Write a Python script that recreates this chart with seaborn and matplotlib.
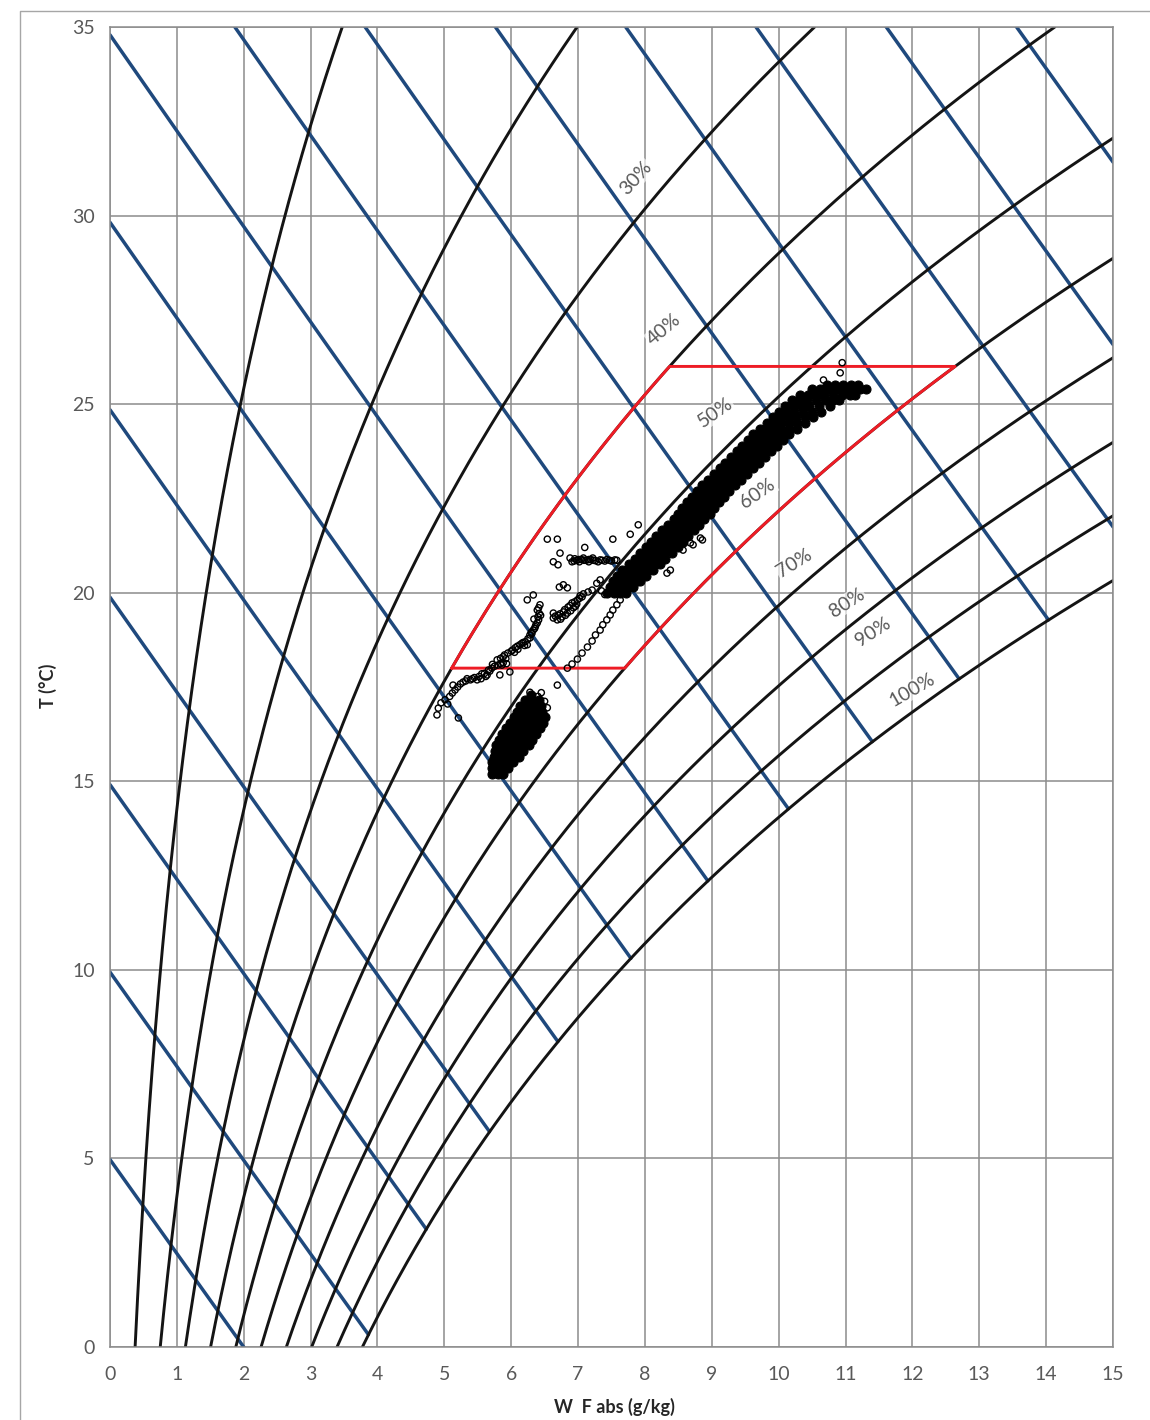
import numpy as np
import matplotlib
matplotlib.use("Agg")
import matplotlib.pyplot as plt
import seaborn as sns
from matplotlib.lines import Line2D

# ---------------- data ----------------
temp_table = list(range(0, 36))
psat_kpa = [0.6112, 0.6571, 0.7060, 0.7581, 0.8135, 0.8725, 0.9353, 1.0020, 1.0729,
            1.1481, 1.2280, 1.3128, 1.4026, 1.4979, 1.5987, 1.7055, 1.8185, 1.9380,
            2.0643, 2.1979, 2.3389, 2.4878, 2.6448, 2.8104, 2.9850, 3.1690, 3.3629,
            3.5670, 3.7818, 4.0078, 4.2455, 4.4953, 4.7578, 5.0335, 5.3229, 5.6267]
pressure_kpa = 101.325
rh_levels = [10, 20, 30, 40, 50, 60, 70, 80, 90, 100]
enthalpy_levels = [5, 10, 15, 20, 25, 30, 35, 40, 45, 50, 55, 60, 65, 70]
comfort_T = [18, 26]
comfort_rh = [40, 60]

label_text = ["30%", "40%", "50%", "60%", "70%", "80%", "90%", "100%"]
label_x = [7.87, 8.29, 9.05, 9.69, 10.23, 11.02, 11.41, 11.99]
label_T = [31.00, 26.97, 24.77, 22.62, 20.79, 19.73, 18.96, 17.42]
label_rot = [48, 40, 35, 35, 32, 33, 33, 30]

x_ticks = list(range(0, 16))
y_ticks = [0, 5, 10, 15, 20, 25, 30, 35]

# dense main band of measurements (rows of temperature)
band_T = [20.00, 20.15, 20.30, 20.45, 20.60, 20.75, 20.90, 21.05, 21.20, 21.35,
          21.50, 21.65, 21.80, 21.95, 22.10, 22.25, 22.40, 22.55, 22.70, 22.85,
          23.00, 23.15, 23.30, 23.45, 23.60, 23.75, 23.90, 24.05, 24.20, 24.35,
          24.50, 24.65, 24.80, 24.95, 25.10, 25.25, 25.40, 25.52]
band_x = [
    [7.44, 7.53, 7.62, 7.72],
    [7.48, 7.57, 7.66, 7.75, 7.82],
    [7.52, 7.61, 7.70, 7.79, 7.88, 7.93],
    [7.58, 7.67, 7.76, 7.85, 7.94, 8.02],
    [7.66, 7.75, 7.84, 7.93, 8.02, 8.12],
    [7.76, 7.85, 7.94, 8.03, 8.12, 8.22],
    [7.85, 7.94, 8.03, 8.12, 8.21, 8.30],
    [7.93, 8.02, 8.11, 8.20, 8.29, 8.40],
    [8.01, 8.10, 8.19, 8.28, 8.37, 8.49],
    [8.09, 8.18, 8.27, 8.36, 8.45, 8.57],
    [8.17, 8.26, 8.35, 8.44, 8.54, 8.65],
    [8.26, 8.35, 8.44, 8.53, 8.63, 8.73],
    [8.35, 8.44, 8.53, 8.62, 8.71, 8.81],
    [8.43, 8.52, 8.61, 8.70, 8.79, 8.89],
    [8.50, 8.59, 8.68, 8.77, 8.87, 8.97],
    [8.56, 8.65, 8.74, 8.84, 8.94, 9.04],
    [8.63, 8.72, 8.81, 8.91, 9.01, 9.11],
    [8.70, 8.79, 8.88, 8.98, 9.08, 9.18],
    [8.78, 8.87, 8.96, 9.06, 9.16, 9.26],
    [8.86, 8.95, 9.05, 9.15, 9.25, 9.35],
    [8.95, 9.04, 9.14, 9.24, 9.34, 9.44],
    [9.03, 9.13, 9.23, 9.33, 9.43, 9.53],
    [9.12, 9.22, 9.32, 9.42, 9.52, 9.62],
    [9.20, 9.30, 9.40, 9.50, 9.60, 9.71],
    [9.28, 9.38, 9.48, 9.58, 9.69, 9.80],
    [9.37, 9.47, 9.57, 9.67, 9.78, 9.89],
    [9.45, 9.55, 9.65, 9.76, 9.87, 9.98],
    [9.54, 9.64, 9.74, 9.85, 9.96, 10.07],
    [9.62, 9.72, 9.83, 9.94, 10.05, 10.16],
    [9.72, 9.82, 9.93, 10.04, 10.16, 10.28],
    [9.82, 9.92, 10.03, 10.15, 10.27, 10.40],
    [9.91, 10.02, 10.14, 10.26, 10.39, 10.52],
    [10.00, 10.11, 10.23, 10.36, 10.50, 10.64],
    [10.10, 10.21, 10.33, 10.46, 10.60, 10.77],
    [10.20, 10.31, 10.43, 10.56, 10.70, 10.82, 10.90],
    [10.32, 10.44, 10.56, 10.68, 10.81, 10.94, 11.06, 11.14],
    [10.50, 10.62, 10.74, 10.86, 10.98, 11.10, 11.22, 11.30],
    [10.72, 10.84, 10.96, 11.08, 11.18],
]

# dense lower cluster
blob_T = [15.20, 15.35, 15.50, 15.65, 15.80, 15.95, 16.10, 16.25, 16.40, 16.55,
          16.70, 16.85, 17.00, 17.15, 17.30]
blob_x = [
    [5.72, 5.80, 5.88],
    [5.71, 5.79, 5.87, 5.95],
    [5.72, 5.80, 5.88, 5.96, 6.03],
    [5.74, 5.82, 5.90, 5.98, 6.06, 6.12],
    [5.76, 5.84, 5.92, 6.00, 6.08, 6.17],
    [5.78, 5.86, 5.94, 6.02, 6.10, 6.19, 6.26],
    [5.82, 5.90, 5.98, 6.06, 6.14, 6.23, 6.31],
    [5.86, 5.94, 6.02, 6.10, 6.19, 6.28, 6.37],
    [5.92, 6.00, 6.08, 6.16, 6.25, 6.34, 6.43],
    [5.98, 6.06, 6.14, 6.22, 6.31, 6.40, 6.48],
    [6.04, 6.12, 6.20, 6.29, 6.38, 6.50],
    [6.08, 6.16, 6.25, 6.35, 6.46],
    [6.13, 6.22, 6.32, 6.44],
    [6.21, 6.31, 6.42],
    [6.30],
]

# scattered individual measurements
sparse_x = [4.89, 4.91, 5.01, 5.12, 5.13, 5.28, 5.39, 5.49, 5.64, 5.71, 5.80, 5.88, 5.98,
            5.83, 5.21, 5.05, 5.20, 5.34, 5.45, 5.56, 5.66, 5.75,
            4.95, 5.08, 5.16, 5.24, 5.32, 5.42, 5.52, 5.60, 5.68, 5.72, 5.84, 5.93, 5.55, 5.62,
            5.79, 5.88, 5.95, 6.06, 6.13, 6.21, 6.28, 6.33, 6.39, 6.40, 6.39, 6.43, 6.24,
            6.33, 5.86, 6.24, 6.00, 6.16, 6.30, 6.36, 6.10, 5.92,
            5.84, 5.90, 6.02, 6.09, 6.18, 6.25, 6.31, 6.35, 6.37, 6.41, 6.42, 6.41, 6.28,
            6.20, 6.05, 6.44, 6.34,
            6.63, 6.69, 6.76, 6.78, 6.85, 6.91, 6.99, 7.06, 7.08, 6.84, 6.63, 6.93, 6.70,
            6.98, 7.02, 6.72, 6.78, 6.84, 7.15, 7.33,
            6.66, 6.73, 6.80, 6.88, 6.95, 7.03, 6.74, 6.81, 6.89, 6.96,
            6.63, 6.70, 6.73, 6.91, 6.98, 7.05, 7.12, 7.19, 7.26, 7.33, 7.40, 7.47, 7.55,
            6.95, 7.02, 7.16, 7.30, 6.88, 7.08, 7.22,
            6.94, 7.01, 7.09, 7.16, 7.23, 7.36, 7.43, 7.50, 7.58,
            6.54, 6.69, 7.10, 7.52, 7.78, 7.90, 7.21,
            6.84, 6.91, 6.99, 7.06, 7.14, 7.21, 7.26, 7.33, 7.37, 7.43, 7.48, 7.52, 7.58,
            7.63, 6.69,
            8.53, 8.68, 8.83, 8.38, 8.57, 8.72, 8.86, 8.33, 10.67, 10.92, 10.95,
            7.35, 7.40, 7.28,
            6.40, 6.50, 6.54, 6.45, 6.28, 6.36]
sparse_T = [16.76, 16.94, 17.16, 17.34, 17.55, 17.63, 17.69, 17.69, 17.82, 18.00, 18.08, 18.14, 17.90,
            17.82, 16.68, 17.05, 17.50, 17.72, 17.75, 17.85, 17.95, 18.05,
            17.08, 17.25, 17.42, 17.58, 17.66, 17.72, 17.78, 17.86, 17.92, 18.10, 18.12, 18.12, 17.72, 17.78,
            18.22, 18.30, 18.40, 18.54, 18.62, 18.70, 18.88, 19.01, 19.20, 19.36, 19.54, 19.68, 19.81,
            19.94, 18.08, 18.62, 18.45, 18.66, 18.95, 19.10, 18.50, 18.25,
            18.26, 18.35, 18.48, 18.58, 18.68, 18.78, 18.92, 19.05, 19.15, 19.28, 19.45, 19.60, 18.80,
            18.60, 18.42, 19.40, 19.30,
            19.33, 19.28, 19.36, 19.49, 19.62, 19.73, 19.81, 19.89, 19.97, 19.46, 19.46, 19.60, 19.40,
            19.70, 19.85, 20.15, 20.21, 20.13, 20.02, 20.34,
            19.38, 19.44, 19.55, 19.66, 19.76, 19.92, 19.30, 19.40, 19.52, 19.64,
            20.82, 20.74, 21.05, 20.82, 20.86, 20.88, 20.86, 20.88, 20.85, 20.87, 20.84, 20.86, 20.87,
            20.90, 20.82, 20.82, 20.82, 20.92, 20.92, 20.92,
            20.84, 20.88, 20.86, 20.88, 20.86, 20.86, 20.88, 20.84, 20.86,
            21.42, 21.42, 21.20, 21.42, 21.55, 21.80, 20.07,
            18.00, 18.11, 18.24, 18.40, 18.56, 18.72, 18.88, 19.01, 19.15, 19.28, 19.41, 19.54, 19.68,
            19.81, 17.55,
            21.40, 21.32, 21.45, 20.60, 21.13, 21.27, 21.40, 20.52, 25.64, 25.83, 26.10,
            20.05, 19.95, 20.25,
            17.25, 17.12, 16.95, 17.35, 17.36, 16.98]

# ---------------- helpers ----------------
T_fine = np.linspace(0, 35, 1401)
log_ps = np.log(np.array(psat_kpa))


def psat(T):
    return np.exp(np.interp(T, temp_table, log_ps))


def w_of(T, rh):
    pv = rh / 100.0 * psat(T)
    return 622.0 * pv / (pressure_kpa - pv)


# ---------------- figure ----------------
sns.set_theme(style="white")
plt.rcParams['font.family'] = ['Lato', 'DejaVu Sans']

W, H = 1150, 1420
fig = plt.figure(figsize=(W / 100, H / 100), dpi=100)
ax = fig.add_axes([110 / W, 1 - 1347 / H, (1113 - 110) / W, (1347 - 27) / H])

grid_c = '#8c8c8c'
ax.set_xlim(0, 15)
ax.set_ylim(0, 35)
ax.set_xticks(x_ticks)
ax.set_yticks(y_ticks)
ax.grid(True, color=grid_c, lw=1.1, zorder=0)
ax.set_axisbelow(True)
for sp in ax.spines.values():
    sp.set_color(grid_c)
    sp.set_linewidth(1.1)
ax.tick_params(axis='both', direction='out', length=5, width=1.1, color=grid_c,
               labelsize=14, labelcolor='#595959')
ax.tick_params(axis='x', pad=9)
ax.tick_params(axis='y', pad=6)

# enthalpy lines
blue = '#1F497D'
w_grid = np.linspace(0, 16, 6401)
for h in enthalpy_levels:
    T_line = (h - 2.501 * w_grid) / (1.006 + 0.00186 * w_grid)
    ok = w_grid <= w_of(np.clip(T_line, 0, 35), 100)
    ok &= T_line > -2
    end = np.argmin(ok) if not ok.all() else len(ok)
    sns.lineplot(x=w_grid[:end], y=T_line[:end], sort=False, estimator=None,
                 color=blue, lw=2.5, ax=ax, zorder=2)

# relative humidity curves
for rh in rh_levels:
    sns.lineplot(x=w_of(T_fine, rh), y=T_fine, sort=False, estimator=None,
                 color='#141414', lw=2.1, ax=ax, zorder=2.5)

# comfort zone
T_seg = np.linspace(comfort_T[0], comfort_T[1], 200)
left = w_of(T_seg, comfort_rh[0])
right = w_of(T_seg, comfort_rh[1])
zx = np.concatenate([left, right[::-1], [left[0]]])
zy = np.concatenate([T_seg, T_seg[::-1], [T_seg[0]]])
sns.lineplot(x=zx, y=zy, sort=False, estimator=None, color='#EE1C25', lw=2.1,
             ax=ax, zorder=3)

# measurements
bx = [x for row in band_x for x in row]
by = [t for t, row in zip(band_T, band_x) for _ in row]
lx = [x for row in blob_x for x in row]
ly = [t for t, row in zip(blob_T, blob_x) for _ in row]
sns.scatterplot(x=bx + lx, y=by + ly, ax=ax, s=42, color='black', edgecolor='black',
                linewidth=0.8, zorder=4, legend=False)
sns.scatterplot(x=sparse_x, y=sparse_T, ax=ax, s=20, facecolor='none',
                edgecolor='black', linewidth=1.0, zorder=4, legend=False)

# RH labels
for t, x, y, r in zip(label_text, label_x, label_T, label_rot):
    ax.text(x, y, t, rotation=r, rotation_mode='anchor', ha='center', va='center',
            fontsize=14, color='#595959', zorder=5,
            bbox=dict(facecolor='white', edgecolor='none', alpha=0.65, pad=0.5))

ax.set_xlabel('')
ax.set_ylabel('')
fig.text(614 / W, 1 - 1407 / H, 'W  F abs (g/kg)', ha='center', va='center',
         fontsize=13, fontweight='bold', color='#262626')
fig.text(48 / W, 1 - 686 / H, 'T (°C)', ha='center', va='center', rotation=90,
         fontsize=13, fontweight='bold', color='#262626')

# chart-area border
fig.add_artist(Line2D([20 / W, 20 / W, 1.0], [0.0, 1 - 11 / H, 1 - 11 / H],
                      transform=fig.transFigure, color='#a6a6a6', lw=1.0))

fig.savefig('out.png', dpi=100, facecolor='white')
